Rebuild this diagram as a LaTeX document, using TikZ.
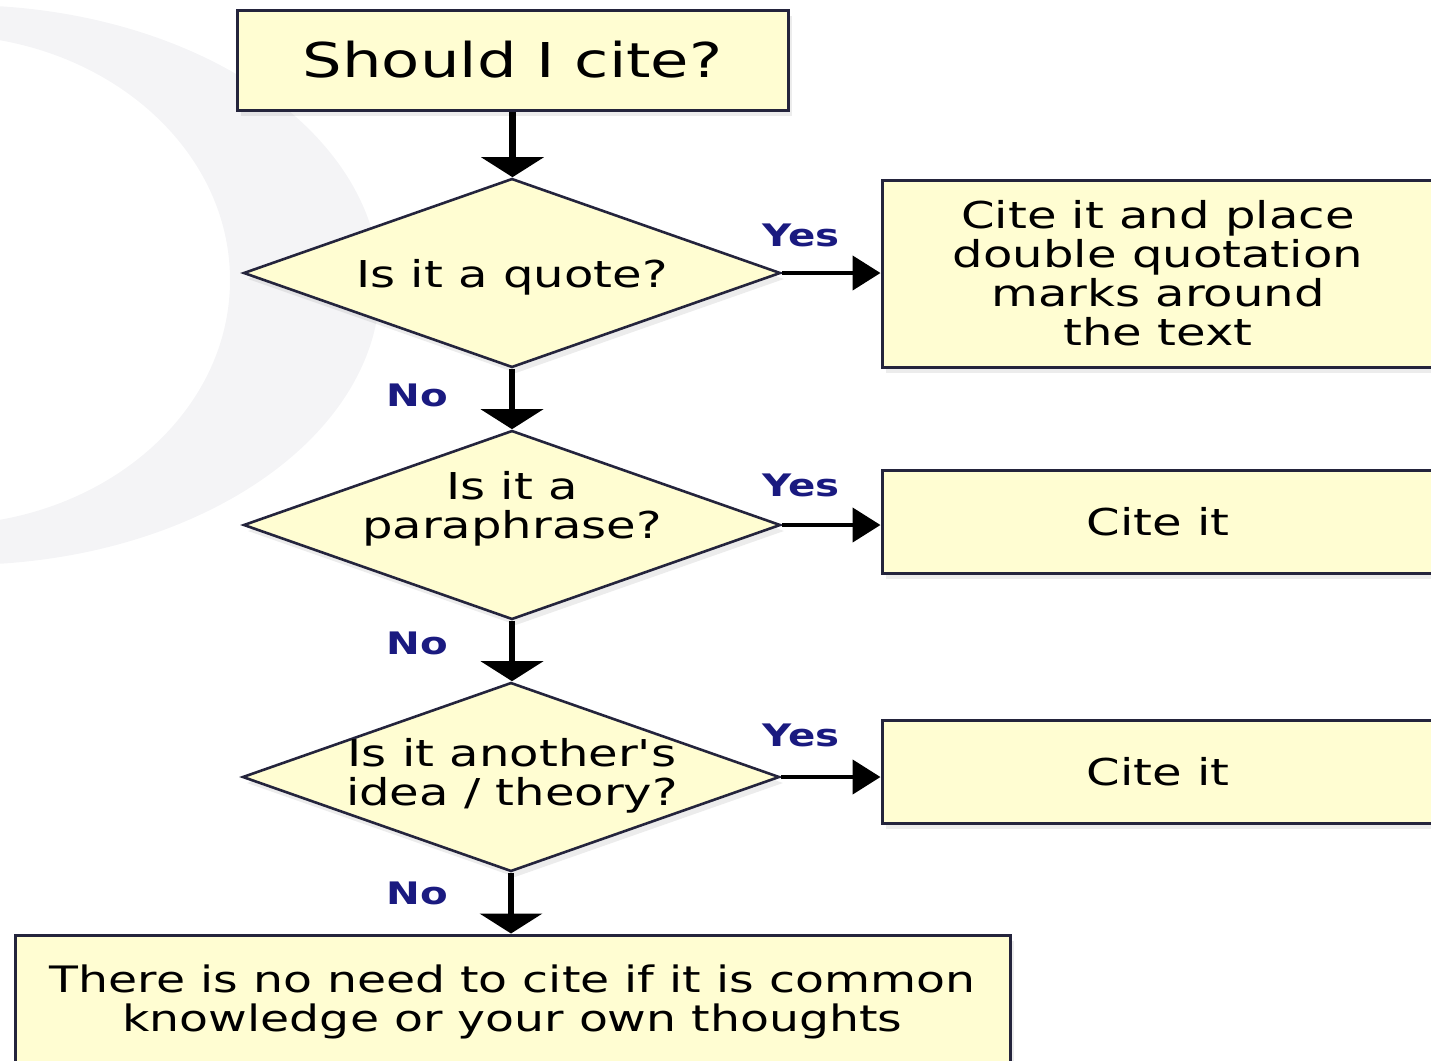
\documentclass[tikz,border=0pt]{standalone}
\usepackage{fontspec}
\newfontfamily\mainf{DejaVu Sans}[FakeStretch=1.3]
\usetikzlibrary{shapes.geometric,arrows.meta,shadows}
\definecolor{boxfill}{HTML}{FFFDD2}
\definecolor{boxline}{HTML}{24243C}
\definecolor{lblcol}{HTML}{1A1A80}
\definecolor{ringcol}{HTML}{F4F4F6}
\tikzset{
  stepbox/.style={draw=boxline, line width=3pt, fill=boxfill, rectangle, inner sep=0pt,
    align=center, font=\mainf\fontsize{37}{39}\selectfont,
    drop shadow={opacity=0.15, shadow xshift=4pt, shadow yshift=-6pt}},
  decide/.style={draw=boxline, line width=2.6pt, fill=boxfill, diamond, inner sep=0pt,
    minimum width=537pt, minimum height=189pt,
    drop shadow={opacity=0.15, shadow xshift=4pt, shadow yshift=-6pt}},
  dtext/.style={align=center, font=\mainf\fontsize{37}{39.5}\selectfont, inner sep=0pt},
  vflow/.style={line width=6.5pt, -{Triangle[length=20pt, width=62pt]}},
  hflow/.style={line width=4.5pt, -{Triangle[length=28pt, width=34pt]}},
  lbl/.style={text=lblcol, font=\mainf\bfseries\fontsize{31}{36}\selectfont, inner sep=0pt}
}
\begin{document}
\begin{tikzpicture}[x=1pt, y=-1pt]
\useasboundingbox (0,0) rectangle (1431,1060);
% background ring
\fill[ringcol, even odd rule] (-40,285) ellipse [x radius=420, y radius=280]
                              (-60,280) ellipse [x radius=290, y radius=245];
% nodes
\node[stepbox, minimum width=551pt, minimum height=100pt, font=\mainf\fontsize{48}{50}\selectfont]
  (start) at (512.5,60) {Should I cite?};
\node[decide] (q1) at (512,273) {};
\node[dtext] (q1t) at (512,277) {Is it a quote?};
\node[decide] (q2) at (512,525) {};
\node[dtext] (q2t) at (512,509) {Is it a\\paraphrase?};
\node[decide] (q3) at (511,777) {};
\node[dtext] (q3t) at (512,776) {Is it another's\\idea / theory?};
\node[stepbox, minimum width=552pt, minimum height=187pt] (a1) at (1158,273.5)
  {Cite it and place\\double quotation\\marks around\\the text};
\node[stepbox, minimum width=552pt, minimum height=103pt] (a2) at (1158,521.5) {Cite it};
\node[stepbox, minimum width=552pt, minimum height=103pt] (a3) at (1158,771.5) {Cite it};
\node[stepbox, minimum width=995pt, minimum height=134pt, font=\mainf\fontsize{36.4}{39}\selectfont]
  (a4) at (512.5,1002)
  {There is no need to cite if it is common\\knowledge or your own thoughts};
% connectors
\draw[vflow] (start.south) -- (start.south |- q1.north);
\draw[vflow] (q1.south) -- (q2.north);
\draw[vflow] (q2.south) -- (q2.south |- q3.north);
\draw[vflow] (q3.south) -- (q3.south |- a4.north);
\draw[hflow] (q1.east) -- (q1.east -| a1.west);
\draw[hflow] (q2.east) -- (q2.east -| a2.west);
\draw[hflow] (q3.east) -- (q3.east -| a3.west);
% labels
\node[lbl] (y1) at (801,235) {Yes};
\node[lbl] (y2) at (801,485) {Yes};
\node[lbl] (y3) at (801,735) {Yes};
\node[lbl] (n1) at (417,395) {No};
\node[lbl] (n2) at (417,643) {No};
\node[lbl] (n3) at (417,893) {No};
\end{tikzpicture}
\end{document}
